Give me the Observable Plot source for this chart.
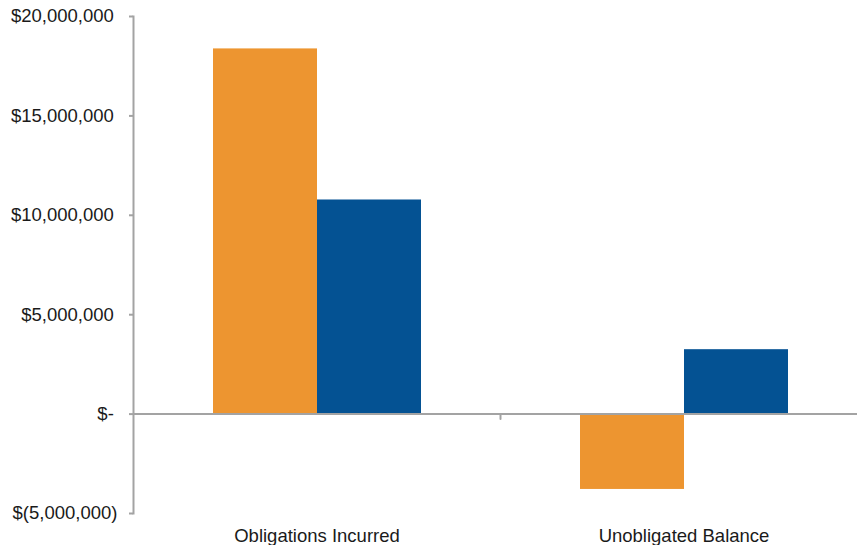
<!DOCTYPE html>
<html>
<head>
<meta charset="utf-8">
<script src="https://cdn.jsdelivr.net/npm/d3@7"></script>
<script src="https://cdn.jsdelivr.net/npm/@observablehq/plot@0.6"></script>
<style>
  html, body { margin: 0; padding: 0; background: #fff; overflow: hidden; }
</style>
</head>
<body>
<div id="chart"></div>
<script>
// Budget categories and the two compared series
const categories = ["Obligations Incurred", "Unobligated Balance"];
const seriesNames = ["Series 1", "Series 2"];
const series1Values = [18370000, -3790000];
const series2Values = [10770000, 3240000];
const seriesColors = ["#ED9530", "#045293"];

// Y axis ticks in accounting style
const yTicks = [-5000000, 0, 5000000, 10000000, 15000000, 20000000];
const yTickLabels = ["$(5,000,000)", "$-", "$5,000,000", "$10,000,000", "$15,000,000", "$20,000,000"];

const rows = categories.flatMap((category, i) => [
  {category, series: seriesNames[0], value: series1Values[i]},
  {category, series: seriesNames[1], value: series2Values[i]}
]);

// Accounting format: non-negative amounts leave room for the closing parenthesis
const formatTick = (d) => yTickLabels[yTicks.indexOf(d)] + (d >= 0 ? "\u2009" : "");

const axisGray = "#a3a3a3";

// Short downward tick drawn at the boundary between category groups
const tickShape = {
  draw(context, length) {
    context.moveTo(0, 0);
    context.lineTo(0, -length);
  }
};

const chart = Plot.plot({
  width: 857,
  height: 545,
  marginTop: 16,
  marginBottom: 32,
  marginLeft: 133,
  marginRight: -10,
  style: {
    fontFamily: "'Liberation Sans', Arial, sans-serif",
    fontSize: "18.5px",
    color: "#1a1a1a",
    background: "#fff"
  },
  fx: {domain: categories, padding: 0, label: null, axis: null},
  x: {domain: seriesNames, paddingInner: 0, paddingOuter: 0.756, axis: null},
  y: {domain: [-5000000, 20000000], label: null, axis: null},
  color: {domain: seriesNames, range: seriesColors},
  marks: [
    Plot.barY(rows, {fx: "category", x: "series", y: "value", fill: "series"}),
    Plot.ruleY([0], {stroke: axisGray, strokeWidth: 2}),
    Plot.frame({anchor: "left", facetAnchor: "left", stroke: axisGray, strokeWidth: 2}),
    Plot.vector([0], {
      y: (d) => d,
      frameAnchor: "left",
      facetAnchor: "right",
      length: 5,
      rotate: 180,
      anchor: "start",
      shape: tickShape,
      stroke: axisGray,
      strokeWidth: 2
    }),
    Plot.axisY({
      anchor: "left",
      ticks: yTicks,
      tickFormat: formatTick,
      tickSize: 4,
      tickPadding: 12,
      stroke: axisGray,
      strokeWidth: 2,
      label: null
    }),
    Plot.axisFx({anchor: "bottom", tickSize: 0, tickPadding: 15, label: null})
  ]
});

document.getElementById("chart").append(chart);
</script>
</body>
</html>
